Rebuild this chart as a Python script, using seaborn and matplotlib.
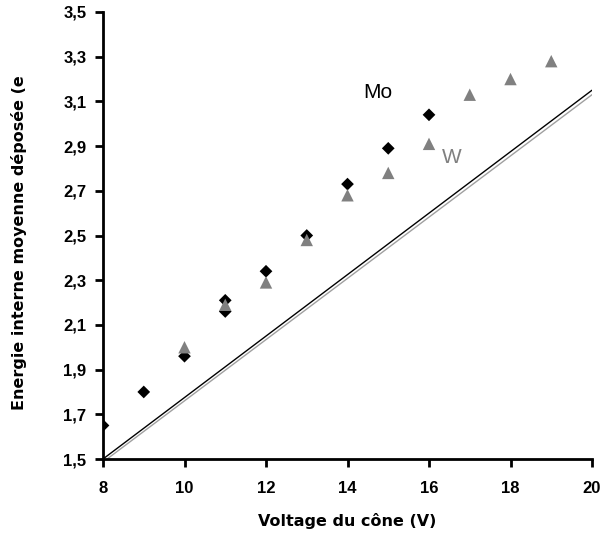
import pandas as pd
import matplotlib.pyplot as plt
import seaborn as sns

# values
mo_x = [8, 9, 10, 11, 11, 12, 13, 14, 15, 16]
mo_y = [1.65, 1.80, 1.96, 2.16, 2.21, 2.34, 2.50, 2.73, 2.89, 3.04]
w_x = [10, 11, 12, 13, 14, 15, 16, 17, 18, 19]
w_y = [2.00, 2.19, 2.29, 2.48, 2.68, 2.78, 2.91, 3.13, 3.20, 3.28]

# reference lines
line_mo_x = [8.0, 20.0]
line_mo_y = [1.50, 3.15]
line_w_x = [8.1, 20.0]
line_w_y = [1.50, 3.13]

x_ticks = [8, 10, 12, 14, 16, 18, 20]
y_ticks = [1.5, 1.7, 1.9, 2.1, 2.3, 2.5, 2.7, 2.9, 3.1, 3.3, 3.5]

df = pd.DataFrame({
    "x": mo_x + w_x,
    "y": mo_y + w_y,
    "metal": ["Mo"] * len(mo_x) + ["W"] * len(w_x),
})

sns.set_style("ticks")
plt.rcParams["font.family"] = ["Liberation Sans", "DejaVu Sans"]

fig = plt.figure(figsize=(6.01, 5.37), dpi=100)
ax = fig.add_axes([103 / 601, 1 - 459 / 537, 489 / 601, 447 / 537])

sns.lineplot(x=line_mo_x, y=line_mo_y, color="black", lw=1.0, ax=ax)
sns.lineplot(x=line_w_x, y=line_w_y, color="#a0a0a0", lw=1.0, ax=ax)

sns.scatterplot(
    data=df, x="x", y="y", hue="metal", style="metal",
    palette={"Mo": "black", "W": "#808080"},
    markers={"Mo": "D", "W": "^"},
    size="metal", sizes={"Mo": 42, "W": 80},
    edgecolor="none", legend=False, ax=ax, zorder=3,
)

ax.text(14.75, 3.14, "Mo", fontsize=15, color="black", ha="center", va="center")
ax.text(16.56, 2.85, "W", fontsize=15, color="#808080", ha="center", va="center")

ax.set_xlim(8, 20)
ax.set_ylim(1.5, 3.5)
ax.set_xticks(x_ticks)
ax.set_yticks(y_ticks)
ax.set_yticklabels([f"{v:.1f}".replace(".", ",") for v in y_ticks])
ax.tick_params(axis="both", direction="out", length=6, width=2, labelsize=12,
               colors="black")
for lab in ax.get_xticklabels() + ax.get_yticklabels():
    lab.set_fontweight("bold")
ax.tick_params(axis="x", pad=10)
ax.tick_params(axis="y", pad=6)

sns.despine(ax=ax)
for side in ["left", "bottom"]:
    ax.spines[side].set_linewidth(2)
    ax.spines[side].set_color("black")

ax.set_xlabel("Voltage du cône (V)", fontsize=11.5, fontweight="bold",
              family=["DejaVu Sans"], labelpad=12, color="black")
ax.set_ylabel("Energie interne moyenne déposée (e", fontsize=11.5, fontweight="bold",
              family=["DejaVu Sans"], ha="left", color="black")
ax.yaxis.set_label_coords(-0.155, 0.11)

plt.savefig("out.png", dpi=100)
